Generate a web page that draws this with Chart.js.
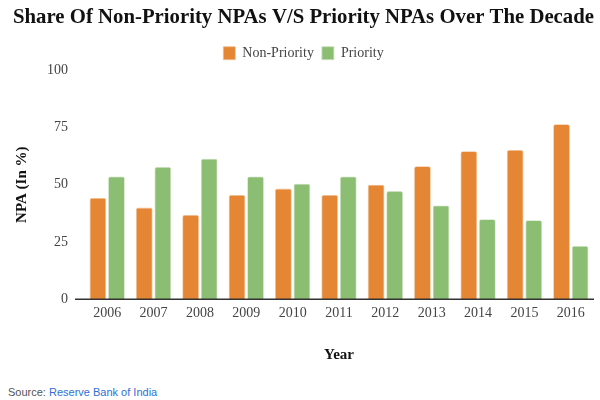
<!DOCTYPE html>
<html>
<head>
<meta charset="utf-8">
<script src="https://cdn.jsdelivr.net/npm/chart.js@4.4.1/dist/chart.umd.min.js"></script>
<style>
  body { margin: 0; background: #fff; }
  #wrap { position: relative; width: 600px; height: 400px; }
  #source { position: absolute; left: 8px; top: 386px; font: 11px "Liberation Sans", Arial, sans-serif; color: #555; }
  #source span { color: #2f6fd6; }
</style>
</head>
<body>
<div id="wrap">
  <canvas id="myChart" width="600" height="368"></canvas>
  <div id="source">Source: <span>Reserve Bank of India</span></div>
</div>
<script>
const years = ["2006", "2007", "2008", "2009", "2010", "2011", "2012", "2013", "2014", "2015", "2016"];
const nonPriority = [44.2, 40.0, 36.8, 45.5, 48.3, 45.5, 50.0, 58.1, 64.6, 65.1, 76.4];
const priority = [53.6, 57.7, 61.3, 53.6, 50.4, 53.6, 47.2, 40.9, 34.9, 34.5, 23.2];
const yTicks = [0, 25, 50, 75, 100];

const serif = "'Liberation Serif', 'Times New Roman', serif";

// x axis baseline runs a little past the first bar group
const baseline = {
    id: "baseline",
    afterDatasetsDraw(chart) {
        const ctx = chart.ctx;
        const y = chart.scales.y.getPixelForValue(0);
        ctx.save();
        ctx.strokeStyle = "#333";
        ctx.lineWidth = 1.5;
        ctx.beginPath();
        ctx.moveTo(chart.chartArea.left - 9, y);
        ctx.lineTo(chart.chartArea.right, y);
        ctx.stroke();
        ctx.restore();
    }
};

const ctx = document.getElementById("myChart").getContext("2d");

const myChart = new Chart(ctx, {
    type: "bar",
    data: {
        labels: years,
        datasets: [
            {
                label: "Non-Priority",
                data: nonPriority,
                backgroundColor: "#E58634",
                borderColor: "#F1BE91",
                borderWidth: 0.8,
                borderRadius: 2,
                borderSkipped: "bottom"
            },
            {
                label: "Priority",
                data: priority,
                backgroundColor: "#8BBD73",
                borderColor: "#CBE1BF",
                borderWidth: 0.8,
                borderRadius: 2,
                borderSkipped: "bottom"
            }
        ]
    },
    options: {
        responsive: false,
        animation: false,
        layout: { padding: { left: 13, right: 6, top: 0, bottom: 0 } },
        plugins: {
            title: {
                display: true,
                text: "Share Of Non-Priority NPAs V/S Priority NPAs Over The Decade",
                color: "#111",
                font: { family: serif, size: 21, weight: "bold" },
                padding: { top: 5, bottom: 8 }
            },
            legend: {
                labels: {
                    color: "#444",
                    font: { family: serif, size: 14 },
                    boxWidth: 12,
                    boxHeight: 13,
                    padding: 8
                }
            },
            tooltip: { enabled: false }
        },
        scales: {
            x: {
                grid: { display: false, drawTicks: false },
                border: { display: false },
                categoryPercentage: 0.64,
                barPercentage: 1,
                ticks: { color: "#444", font: { family: serif, size: 14 }, padding: 6 },
                title: {
                    display: true,
                    text: "Year",
                    color: "#111",
                    font: { family: serif, size: 15, weight: "bold" },
                    padding: { top: 18 }
                }
            },
            y: {
                min: 0,
                max: 100,
                afterBuildTicks(axis) {
                    axis.ticks = yTicks.map(v => ({ value: v }));
                },
                grid: { display: false, drawTicks: false },
                border: { display: false },
                ticks: { color: "#444", font: { family: serif, size: 14 }, padding: 16 },
                title: {
                    display: true,
                    text: "NPA (In %)",
                    color: "#111",
                    font: { family: serif, size: 15, weight: "bold" },
                    padding: { top: 0, bottom: 0 }
                }
            }
        }
    },
    plugins: [baseline]
});
</script>
</body>
</html>
